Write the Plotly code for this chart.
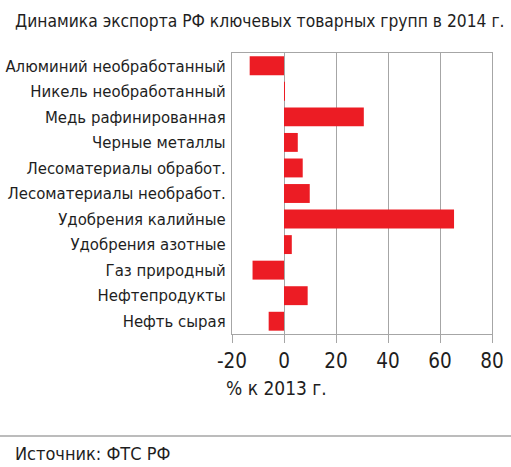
import plotly.graph_objects as go

categories = [
    "Алюминий необработанный",
    "Никель необработанный",
    "Медь рафинированная",
    "Черные металлы",
    "Лесоматериалы обработ.",
    "Лесоматериалы необработ.",
    "Удобрения калийные",
    "Удобрения азотные",
    "Газ природный",
    "Нефтепродукты",
    "Нефть сырая",
]
values = [-13.2, 0.3, 30.7, 5.3, 7.2, 9.9, 65.4, 3.0, -12.1, 9.1, -5.9]
tick_values = [-20, 0, 20, 40, 60, 80]
tick_labels = ["-20", "0", "20", "40", "60", "80"]

FONT = "DejaVu Sans Condensed, sans-serif"
TXT = "#1e1e1e"
GRID = "#a6a6a6"

W, H = 511, 467
L, R, T, B = 232, 19, 53, 133
PW = W - L - R
PH = H - T - B

def px_x(x):
    return (x - L) / PW

def px_y(y):
    return (H - B - y) / PH

fig = go.Figure(go.Bar(
    x=values, y=categories, orientation="h",
    marker=dict(color="#ec1c24", line=dict(width=0)),
))

fig.update_layout(
    width=W, height=H,
    margin=dict(l=L, r=R, t=T, b=B, autoexpand=False),
    paper_bgcolor="white", plot_bgcolor="white",
    bargap=0.26,
    showlegend=False,
    font=dict(family=FONT, color=TXT),
    xaxis=dict(
        range=[-20, 80], tickvals=tick_values, ticktext=tick_labels,
        automargin=False,
        showgrid=True, gridcolor=GRID, gridwidth=1,
        zeroline=False,
        showline=True, linecolor=GRID, linewidth=1, mirror=True,
        ticks="outside", ticklen=8, tickcolor=GRID,
        tickfont=dict(size=20.5, family=FONT, color=TXT),
    ),
    yaxis=dict(
        autorange="reversed",
        automargin=False,
        showgrid=False, zeroline=False,
        showline=True, linecolor=GRID, linewidth=1, mirror=True,
        ticks="", ticklabelstandoff=2,
        tickfont=dict(size=16.6, family=FONT, color=TXT),
    ),
    shapes=[dict(
        type="line", xref="paper", yref="paper",
        x0=px_x(0), x1=px_x(W), y0=px_y(436), y1=px_y(436),
        line=dict(color=GRID, width=1.5),
    )],
    annotations=[
        dict(text="Динамика экспорта РФ ключевых товарных групп в 2014 г.",
             xref="paper", yref="paper", x=px_x(13), y=px_y(21),
             xanchor="left", yanchor="middle", showarrow=False,
             font=dict(size=17.3, family=FONT, color=TXT)),
        dict(text="% к 2013 г.",
             xref="paper", yref="paper", x=px_x(224), y=px_y(388),
             xanchor="left", yanchor="middle", showarrow=False,
             font=dict(size=19, family=FONT, color=TXT)),
        dict(text="Источник: ФТС РФ",
             xref="paper", yref="paper", x=px_x(13), y=px_y(453),
             xanchor="left", yanchor="middle", showarrow=False,
             font=dict(size=18, family=FONT, color=TXT)),
    ],
)

fig.write_html("out.html", config={"displayModeBar": False},
               post_script="document.body.style.margin='0';")
